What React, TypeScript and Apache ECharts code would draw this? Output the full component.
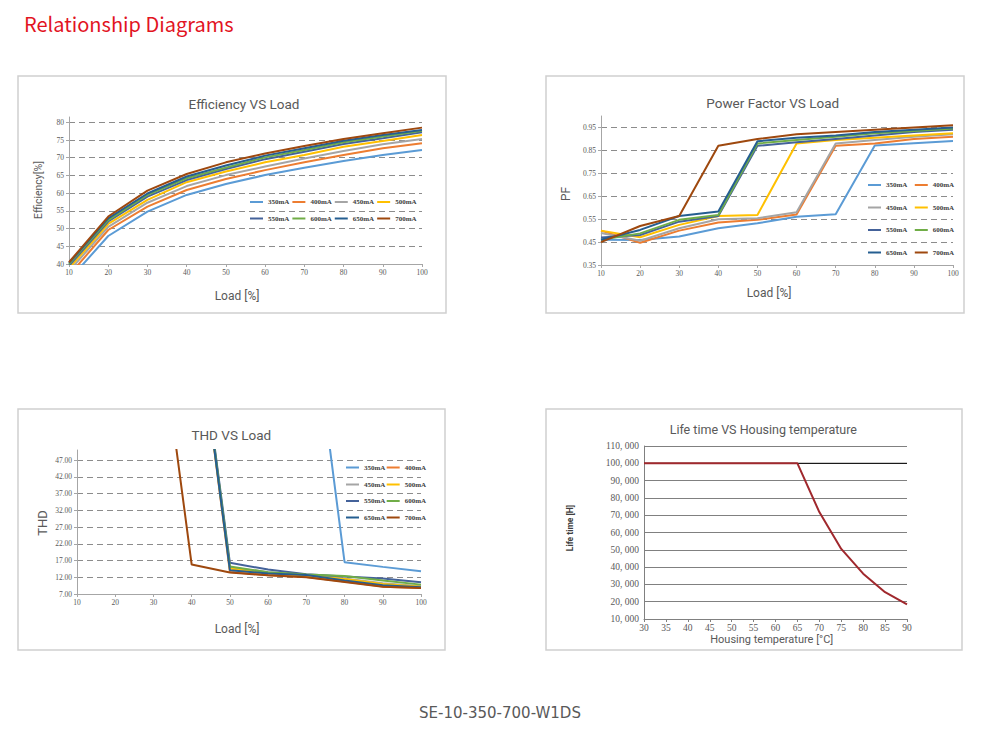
import React, { useEffect, useRef } from 'react';
import * as echarts from 'echarts';

// ---------- data ----------
const currents = ['350mA', '400mA', '450mA', '500mA', '550mA', '600mA', '650mA', '700mA'];
const currentColors = ['#5b9bd5', '#ed7d31', '#a5a5a5', '#ffc000', '#44629a', '#70ad47', '#255e91', '#9e480e'];
const loads = [10, 20, 30, 40, 50, 60, 70, 80, 90, 100];

const eff350 = [35.5, 47.9, 54.8, 59.5, 62.6, 65.1, 67.2, 69.1, 70.8, 72.2];
const eff400 = [36.8, 49.6, 56.2, 60.9, 64.0, 66.5, 68.7, 70.8, 72.7, 74.1];
const eff450 = [38.0, 50.5, 57.3, 62.0, 65.1, 67.5, 69.8, 71.9, 73.8, 75.3];
const eff500 = [38.8, 51.3, 58.1, 63.1, 66.1, 68.7, 70.8, 73.1, 74.7, 76.4];
const eff550 = [39.5, 52.0, 59.0, 63.7, 66.8, 69.6, 71.7, 73.9, 75.5, 77.2];
const eff600 = [40.0, 52.4, 59.5, 64.2, 67.2, 70.1, 72.2, 74.4, 76.0, 77.6];
const eff650 = [40.3, 52.9, 59.9, 64.7, 67.8, 70.6, 72.7, 74.8, 76.4, 77.8];
const eff700 = [40.5, 53.4, 60.7, 65.4, 68.7, 71.2, 73.3, 75.3, 76.9, 78.5];

const pf350 = [0.46, 0.459, 0.474, 0.51, 0.532, 0.56, 0.571, 0.871, 0.881, 0.891];
const pf400 = [0.50, 0.447, 0.50, 0.535, 0.547, 0.57, 0.87, 0.88, 0.90, 0.91];
const pf450 = [0.49, 0.456, 0.51, 0.55, 0.554, 0.58, 0.88, 0.895, 0.91, 0.92];
const pf500 = [0.50, 0.471, 0.525, 0.564, 0.568, 0.88, 0.895, 0.905, 0.915, 0.925];
const pf550 = [0.47, 0.481, 0.539, 0.564, 0.87, 0.885, 0.90, 0.915, 0.93, 0.94];
const pf600 = [0.46, 0.488, 0.547, 0.568, 0.88, 0.895, 0.91, 0.925, 0.935, 0.945];
const pf650 = [0.46, 0.503, 0.564, 0.583, 0.89, 0.905, 0.915, 0.93, 0.94, 0.95];
const pf700 = [0.45, 0.52, 0.564, 0.87, 0.90, 0.92, 0.93, 0.94, 0.95, 0.96];

const thd350 = [null, null, null, null, null, null, 105, 16.5, 15.1, 13.8];
const thd400 = [null, null, null, 103, 13.6, 12.6, 12.1, 10.7, 9.2, 8.8];
const thd450 = [null, null, null, 103, 15.0, 13.5, 12.6, 11.6, 10.2, 9.3];
const thd500 = [null, null, null, 103, 14.6, 13.3, 12.5, 11.5, 10.0, 9.2];
const thd550 = [null, null, null, 103, 16.3, 14.3, 12.9, 12.2, 11.6, 10.5];
const thd600 = [null, null, null, 103, 15.2, 13.5, 12.8, 12.4, 11.0, 9.8];
const thd650 = [null, null, null, 103, 14.1, 13.1, 12.7, 11.0, 9.6, 9.0];
const thd700 = [null, null, 102, 15.8, 13.4, 12.6, 12.0, 10.6, 9.2, 8.8];

const temps = [30, 35, 40, 45, 50, 55, 60, 65, 70, 75, 80, 85, 90];
const lifeHours = [100000, 100000, 100000, 100000, 100000, 100000, 100000, 100000, 71800, 50500, 36200, 25500, 18500];
const ratedLife = 100000;

const efficiency = [eff350, eff400, eff450, eff500, eff550, eff600, eff650, eff700];
const powerFactor = [pf350, pf400, pf450, pf500, pf550, pf600, pf650, pf700];
const thd = [thd350, thd400, thd450, thd500, thd550, thd600, thd650, thd700];

// ---------- helpers ----------
const GRAY = '#595959';
const SANS = 'Roboto';
const SERIF = '"Liberation Serif"';

function txt(text: string, x: number, y: number, font: string, fill: string, align = 'center', rotation = 0) {
  return {
    type: 'text',
    x,
    y,
    rotation,
    silent: true,
    style: {
      text,
      font,
      fill,
      align,
      verticalAlign: 'middle',
      textAlign: align,
      textVerticalAlign: 'middle',
    },
  };
}

function box(x: number, y: number, w: number, h: number) {
  return {
    type: 'rect',
    silent: true,
    shape: { x, y, width: w, height: h },
    style: { fill: 'none', stroke: '#d0d0d0', lineWidth: 1.5 },
  };
}

function loadXAxis(gridIndex: number) {
  return {
    type: 'value',
    gridIndex,
    min: 10,
    max: 100,
    interval: 10,
    axisLine: { show: true, onZero: false, lineStyle: { color: '#a6a6a6' } },
    axisTick: { show: true, length: 3, lineStyle: { color: '#a6a6a6' } },
    axisLabel: { fontFamily: SERIF, fontSize: 7.5, color: GRAY, margin: 4 },
    splitLine: { show: false },
  };
}

function dashedYAxis(gridIndex: number, min: number, max: number, interval: number, fmt: (v: number) => string) {
  return {
    type: 'value',
    gridIndex,
    min,
    max,
    interval,
    axisLine: { show: true, lineStyle: { color: '#a6a6a6' } },
    axisTick: { show: true, length: 3, lineStyle: { color: '#a6a6a6' } },
    axisLabel: { fontFamily: SERIF, fontSize: 7.5, color: GRAY, margin: 5, showMaxLabel: false, formatter: fmt },
    splitLine: {
      show: true,
      showMinLine: false,
      showMaxLine: false,
      lineStyle: { type: [6, 4], color: '#8c8c8c', width: 1 },
    },
  };
}

function loadSeries(values: (number | null)[][], axisIndex: number) {
  return values.map((vals, i) => ({
    type: 'line',
    name: currents[i],
    xAxisIndex: axisIndex,
    yAxisIndex: axisIndex,
    color: currentColors[i],
    symbol: 'none',
    clip: true,
    lineStyle: { width: 2, color: currentColors[i] },
    data: loads.map((x, j) => [x, vals[j]]).filter((p) => p[1] !== null),
  }));
}

function legendRow(names: string[], left: number, top: number, itemGap: number) {
  return {
    show: true,
    data: names,
    left,
    top,
    orient: 'horizontal',
    padding: 0,
    itemGap,
    itemWidth: 13,
    itemHeight: 2,
    icon: 'rect',
    textStyle: { fontFamily: SERIF, fontSize: 7, fontWeight: 'bold', color: '#404040', width: 22 },
  };
}

function fmtThousands(v: number) {
  return Math.round(v).toString().replace(/\B(?=(\d{3})+(?!\d))/g, ', ');
}

export default function App() {
  const ref = useRef<HTMLDivElement>(null);

  useEffect(() => {
    if (!ref.current) return;
    const chart = echarts.init(ref.current, undefined, { renderer: 'svg' });

    const option = {
      animation: false,
      backgroundColor: '#ffffff',
      graphic: [
        box(18, 76, 428, 237),
        box(546, 76, 418, 237),
        box(18, 409, 427, 241),
        box(546, 409, 416, 241),
        txt('Relationship Diagrams', 24, 23, `20px "Noto Sans CJK SC"`, '#e2141f', 'left'),
        txt('SE-10-350-700-W1DS', 500, 713, `15px "DejaVu Sans"`, GRAY),
        // panel 1
        txt('Efficiency VS Load', 244, 103.5, `13.5px ${SANS}`, GRAY),
        txt('Load [%]', 237, 296, `12px ${SANS}`, GRAY),
        txt('Efficiency[%]', 38, 190, `10.5px ${SANS}`, GRAY, 'center', Math.PI / 2),
        // panel 2
        txt('Power Factor VS Load', 772.7, 102.5, `13.5px ${SANS}`, GRAY),
        txt('Load [%]', 769, 293, `12px ${SANS}`, GRAY),
        txt('PF', 565.7, 194, `12px ${SANS}`, GRAY, 'center', Math.PI / 2),
        // panel 3
        txt('THD VS Load', 231.3, 434.7, `13.5px ${SANS}`, GRAY),
        txt('Load [%]', 237, 629, `12px ${SANS}`, GRAY),
        txt('THD', 42, 523, `13px ${SANS}`, GRAY, 'center', Math.PI / 2),
        // panel 4
        txt('Life time VS Housing temperature', 763.3, 429.5, `12.5px ${SANS}`, GRAY),
        txt('Housing temperature [°C]', 771.7, 639, `11px ${SANS}`, GRAY),
        txt('Life time [H]', 570, 528, `bold 8.5px ${SANS}`, '#404040', 'center', Math.PI / 2),
      ],
      grid: [
        { left: 69, top: 117, width: 353, height: 147, containLabel: false },
        { left: 601, top: 116, width: 352, height: 149, containLabel: false },
        { left: 77, top: 450, width: 344, height: 144, containLabel: false },
        { left: 644, top: 446, width: 263, height: 173, containLabel: false },
      ],
      xAxis: [
        loadXAxis(0),
        loadXAxis(1),
        loadXAxis(2),
        {
          type: 'value',
          gridIndex: 3,
          min: 30,
          max: 90,
          interval: 5,
          axisLine: { show: true, onZero: false, lineStyle: { color: '#808080' } },
          axisTick: { show: true, length: 3, lineStyle: { color: '#808080' } },
          axisLabel: { fontFamily: SERIF, fontSize: 9.5, color: GRAY, margin: 4 },
          splitLine: { show: false },
        },
      ],
      yAxis: [
        dashedYAxis(0, 40, 81.5, 5, (v: number) => String(v)),
        dashedYAxis(1, 0.35, 1.0, 0.1, (v: number) => v.toFixed(2)),
        dashedYAxis(2, 7, 50, 5, (v: number) => v.toFixed(2)),
        {
          type: 'value',
          gridIndex: 3,
          min: 10000,
          max: 110000,
          interval: 10000,
          axisLine: { show: true, lineStyle: { color: '#808080' } },
          axisTick: { show: false },
          axisLabel: { fontFamily: SERIF, fontSize: 9.5, color: GRAY, margin: 5, formatter: fmtThousands },
          splitLine: { show: true, showMinLine: false, lineStyle: { type: 'solid', color: '#808080', width: 1 } },
        },
      ],
      legend: [
        legendRow(currents.slice(0, 4), 250, 198.5, 3),
        legendRow(currents.slice(4, 8), 250, 215, 3),
        legendRow(currents.slice(0, 2), 868, 181.5, 7.4),
        legendRow(currents.slice(2, 4), 868, 204, 7.4),
        legendRow(currents.slice(4, 6), 868, 226.5, 7.4),
        legendRow(currents.slice(6, 8), 868, 249, 7.4),
        legendRow(currents.slice(0, 2), 346, 464, 1.3),
        legendRow(currents.slice(2, 4), 346, 481, 1.3),
        legendRow(currents.slice(4, 6), 346, 497.5, 1.3),
        legendRow(currents.slice(6, 8), 346, 514, 1.3),
      ],
      series: [
        ...loadSeries(efficiency, 0),
        ...loadSeries(powerFactor, 1),
        ...loadSeries(thd, 2),
        {
          type: 'line',
          name: 'Rated life',
          xAxisIndex: 3,
          yAxisIndex: 3,
          symbol: 'none',
          silent: true,
          color: '#000000',
          lineStyle: { width: 1, color: '#000000' },
          data: [temps[0], temps[temps.length - 1]].map((t) => [t, ratedLife]),
        },
        {
          type: 'line',
          name: 'Life time',
          xAxisIndex: 3,
          yAxisIndex: 3,
          symbol: 'none',
          color: '#a0282d',
          lineStyle: { width: 2, color: '#a0282d' },
          data: temps.map((t, i) => [t, lifeHours[i]]),
        },
      ],
    };

    chart.setOption(option as any);
    return () => chart.dispose();
  }, []);

  return (
    <div
      ref={ref}
      style={{ position: 'fixed', left: 0, top: 0, width: 989, height: 741, background: '#fff' }}
    />
  );
}
